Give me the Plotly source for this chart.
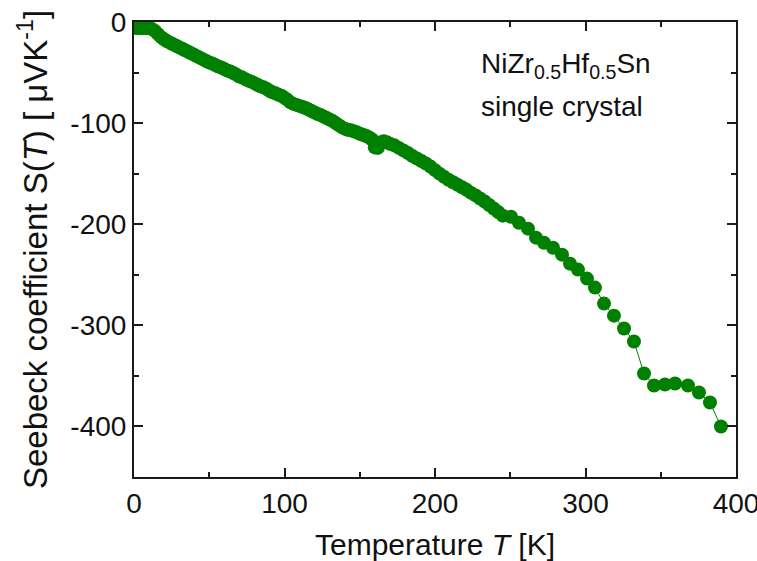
import plotly.graph_objects as go

temperature_K = [
    2, 4, 6, 8, 10, 12, 14, 16, 18, 20,
    22, 24, 26, 28, 30, 32, 34, 36, 38, 40,
    42, 44, 46, 48, 50, 52, 54, 56, 58, 60,
    62, 64, 66, 68, 70, 72, 74, 76, 78, 80,
    82, 84, 86, 88, 90, 92, 94, 96, 98, 100,
    102, 104, 106, 108, 110, 112, 114, 116, 118, 120,
    122, 124, 126, 128, 130, 132, 134, 136, 138, 140,
    142, 144, 146, 148, 150, 152, 154, 156, 158, 160,
    162, 164, 166, 168, 170, 173, 176, 179, 182, 185,
    188, 191, 194, 197, 200, 203, 206, 209, 212, 215,
    218, 221, 224, 227, 230, 233, 236, 239, 242, 245,
    250.5, 255.8, 261.8, 267.1, 272.4, 278.4, 284.4, 289.7, 295.0, 301.0,
    306.3, 312.3, 318.9, 325.6, 332.2, 338.9, 345.5, 352.8, 359.5, 368.1,
    375.4, 382.7, 390.0,
]

seebeck_uVK = [
    -6, -6, -6, -6, -6, -7, -9, -12, -15, -17,
    -19, -20.5, -22, -23.5, -25, -26.5, -28, -29.5, -31, -32.5,
    -34, -35.5, -37, -38.5, -40, -41, -42.5, -44, -45, -46.5,
    -48, -49, -50.5, -52, -54, -55, -56.5, -58, -59, -60.5,
    -62, -63.5, -64.5, -66, -68, -69.5, -70.5, -72, -73, -75,
    -77, -79.5, -81, -82, -83, -84, -85, -86.5, -88, -89.5,
    -91, -92, -93.5, -95, -96.5, -98, -100, -102, -104, -105.5,
    -106.5, -107, -108, -109, -110.5, -111.5, -112.5, -114, -116, -124,
    -124.5, -119, -118, -119, -120.5, -122, -124.5, -127, -129.5, -132.5,
    -135, -137.5, -140, -143, -146.5, -150, -153, -156, -158.5, -161,
    -163.5, -166, -169, -171.5, -174.5, -177.5, -181, -184.5, -188, -191.5,
    -192.6, -198.5, -204.4, -213.3, -218.3, -223.2, -230.1, -239.0, -244.9, -253.8,
    -262.7, -278.5, -290.4, -303.2, -316.0, -347.7, -359.5, -358.5, -357.5, -359.5,
    -366.4, -376.3, -400.0,
]

x_ticks = [0, 100, 200, 300, 400]
y_ticks = [0, -100, -200, -300, -400]

label_lines = ["NiZr<sub>0.5</sub>Hf<sub>0.5</sub>Sn", "single crystal"]

GREEN = "#008000"
FONT = "Liberation Sans, Arial, sans-serif"

fig = go.Figure()
fig.add_trace(go.Scatter(
    x=temperature_K, y=seebeck_uVK,
    mode="lines+markers",
    line=dict(color=GREEN, width=1),
    marker=dict(color=GREEN, size=14, line=dict(width=0)),
    showlegend=False,
))

axis_common = dict(
    showline=True, linecolor="#1a1a1a", linewidth=2,
    mirror="allticks", ticks="inside", ticklen=9, tickwidth=1.5,
    tickcolor="#1a1a1a", showgrid=False, zeroline=False,
    automargin=False, ticklabeloverflow="allow",
    tickfont=dict(family=FONT, size=28, color="#111"),
    minor=dict(ticks="inside", ticklen=5, tickwidth=1.5, tickcolor="#1a1a1a", showgrid=False),
)

fig.update_xaxes(
    range=[0, 400], tickvals=x_ticks, ticktext=[str(v) for v in x_ticks],
    minor_dtick=50, minor_tick0=0,
    title=dict(text="Temperature <i>T</i> [K]", font=dict(family=FONT, size=30, color="#111"), standoff=18),
    **axis_common,
)
fig.update_yaxes(
    range=[-450, 0], tickvals=y_ticks, ticktext=[str(v) for v in y_ticks],
    minor_dtick=50, minor_tick0=0,
    title=dict(text="Seebeck coefficient S(<i>T</i>) [ μVK<sup>-1</sup>]", font=dict(family=FONT, size=33, color="#111"), standoff=13),
    **axis_common,
)

for line_text, yy in zip(label_lines, [-43.5, -84]):
    fig.add_annotation(
        xref="x", yref="y", x=229, y=yy, xanchor="left", yanchor="middle",
        text=line_text, showarrow=False, align="left",
        font=dict(family=FONT, size=28, color="#111"),
    )

fig.update_layout(
    width=757, height=561,
    margin=dict(l=134, r=21, t=22, b=84),
    paper_bgcolor="white", plot_bgcolor="white",
    font=dict(family=FONT, color="#111"),
)

fig.write_html(
    "out.html",
    config={"displayModeBar": False},
    post_script="document.body.style.margin='0';document.body.style.padding='0';",
)
